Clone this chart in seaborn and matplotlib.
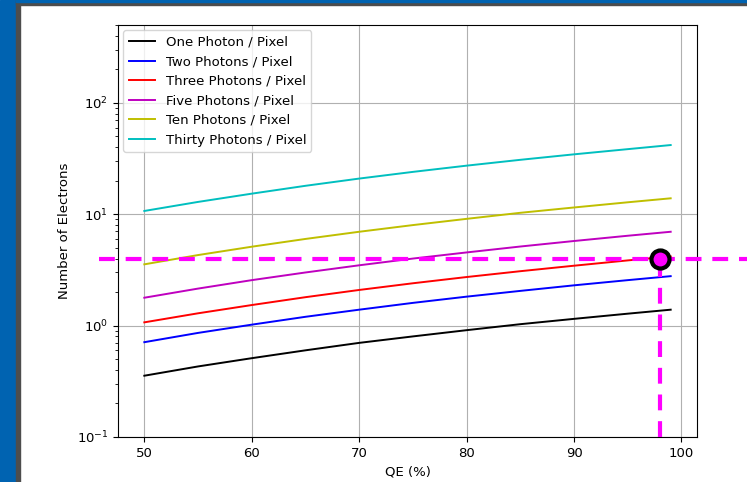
import matplotlib.pyplot as plt
from matplotlib.patches import Rectangle
import numpy as np
import pandas as pd
import seaborn as sns

plt.style.use('default')
plt.rcParams['font.size'] = 9.5

# QE (%) sample points and electrons
qe = [50, 55, 60, 65, 70, 75, 80, 85, 90, 95, 99]
one_photon = [0.355, 0.43, 0.51, 0.60, 0.70, 0.80, 0.91, 1.03, 1.15, 1.28, 1.39]
two_photons = [0.71, 0.86, 1.02, 1.20, 1.39, 1.60, 1.82, 2.05, 2.30, 2.56, 2.78]
three_photons = [1.07, 1.29, 1.53, 1.80, 2.09, 2.40, 2.73, 3.08, 3.45, 3.85, 4.18]
five_photons = [1.78, 2.15, 2.56, 3.00, 3.48, 4.00, 4.54, 5.13, 5.75, 6.41, 6.96]
ten_photons = [3.55, 4.30, 5.11, 6.00, 6.96, 7.99, 9.09, 10.3, 11.5, 12.8, 13.9]
thirty_photons = [10.7, 12.9, 15.3, 18.0, 20.9, 24.0, 27.3, 30.8, 34.5, 38.4, 41.8]

labels = ["One Photon / Pixel", "Two Photons / Pixel", "Three Photons / Pixel",
          "Five Photons / Pixel", "Ten Photons / Pixel", "Thirty Photons / Pixel"]
series = [one_photon, two_photons, three_photons, five_photons, ten_photons, thirty_photons]
colors = ['k', 'b', 'r', 'm', 'y', 'c']

# operating point
op_qe = 98
op_electrons = 4.0

df = pd.DataFrame([[q, v, lab] for lab, vals in zip(labels, series) for q, v in zip(qe, vals)],
                  columns=['qe', 'electrons', 'source'])

fig = plt.figure(figsize=(7.47, 4.82), dpi=100)
# window frame of the screenshot
fig.patches.append(Rectangle((0, 0), 16 / 747, 1, transform=fig.transFigure, color='#0063b1', zorder=0))
fig.patches.append(Rectangle((16 / 747, 0), 4 / 747, 1, transform=fig.transFigure, color='#4d4d4d', zorder=0))
fig.patches.append(Rectangle((16 / 747, 1 - 4.5 / 482), 1, 3 / 482, transform=fig.transFigure, color='#4d4d4d', zorder=0))
fig.patches.append(Rectangle((16 / 747, 1 - 1.5 / 482), 1, 1.5 / 482, transform=fig.transFigure, color='#0063b1', zorder=0))

axs = fig.add_axes([118 / 747, 1 - 437 / 482, 579 / 747, 412 / 482])
for lab, c in zip(labels, colors):
    sns.lineplot(data=df[df['source'] == lab], x='qe', y='electrons', color=c, linewidth=1.4,
                 label=lab, ax=axs)

axs.set_yscale('log')
axs.set_ylim(0.1, 500)
axs.grid(True, which='major', color='#b0b0b0', linewidth=0.8)

axs.axhline(op_electrons, xmin=-0.033, xmax=2, color='#ff00ff', linewidth=3,
            dashes=(3.8, 2.6), clip_on=False, zorder=5)
axs.vlines(op_qe, 0.1, op_electrons, color='#ff00ff', linewidth=3, linestyles=(0, (3.8, 2.6)), zorder=5)
axs.plot([op_qe], [op_electrons], 'o', markersize=13, markerfacecolor='#ff00ff',
         markeredgecolor='k', markeredgewidth=3, zorder=6)

axs.set_xlabel("QE (%)")
axs.set_ylabel("Number of Electrons")
axs.legend(loc="upper left", fontsize=9.5, borderaxespad=0.4)

plt.savefig("out.png", dpi=100)
